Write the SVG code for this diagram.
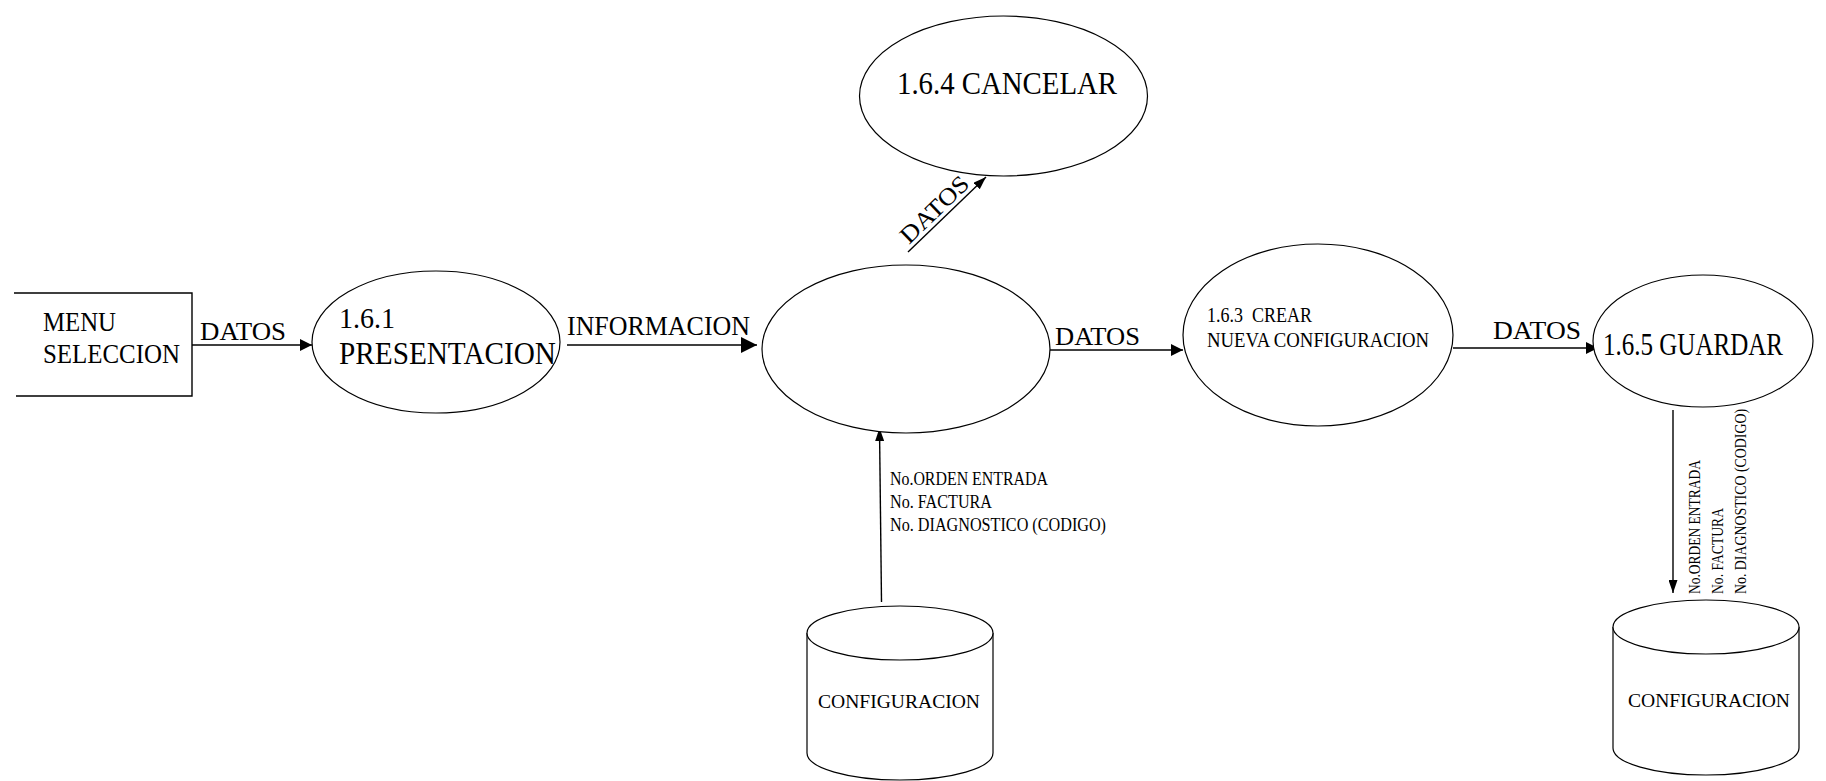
<svg xmlns="http://www.w3.org/2000/svg" width="1826" height="781" viewBox="0 0 1826 781">
<style>
  .shape { fill: #fff; stroke: #000; stroke-width: 1.2; }
  .line { fill: none; stroke: #000; stroke-width: 1.4; }
  text { font-family: "Liberation Serif", "Times New Roman", serif; fill: #000; }
  .pre { white-space: pre; }
</style>
<defs>
  <marker id="ah" viewBox="0 0 12 12" refX="12" refY="6" markerWidth="12" markerHeight="12" markerUnits="userSpaceOnUse" orient="auto">
    <path d="M0,0 L12,6 L0,12 Z" fill="#000"/>
  </marker>
  <marker id="ahBig" viewBox="0 0 16 16" refX="16" refY="8" markerWidth="16" markerHeight="16" markerUnits="userSpaceOnUse" orient="auto">
    <path d="M0,0 L16,8 L0,16 Z" fill="#000"/>
  </marker>
  <marker id="ahThin" viewBox="0 0 13 9" refX="13" refY="4.5" markerWidth="13" markerHeight="9" markerUnits="userSpaceOnUse" orient="auto">
    <path d="M0,0 L13,4.5 L0,9 Z" fill="#000"/>
  </marker>
</defs>
<rect x="0" y="0" width="1826" height="781" fill="#fff"/>

<g id="connectors">
  <line class="line" x1="192" y1="345" x2="312" y2="345" marker-end="url(#ah)"/>
  <text x="200" y="340" font-size="25" textLength="86" lengthAdjust="spacingAndGlyphs">DATOS</text>

  <line class="line" x1="567" y1="345" x2="757" y2="345" marker-end="url(#ahBig)"/>
  <text x="567" y="335" font-size="28" textLength="183" lengthAdjust="spacingAndGlyphs">INFORMACION</text>

  <line class="line" x1="1050" y1="350" x2="1183" y2="350" marker-end="url(#ah)"/>
  <text x="1055" y="345" font-size="25" textLength="85" lengthAdjust="spacingAndGlyphs">DATOS</text>

  <line class="line" x1="1453" y1="348" x2="1598" y2="348" marker-end="url(#ah)"/>
  <text x="1493" y="339" font-size="25" textLength="88" lengthAdjust="spacingAndGlyphs">DATOS</text>

  <line class="line" x1="908" y1="252" x2="986" y2="177" marker-end="url(#ahThin)"/>
  <text transform="translate(909,245) rotate(-44)" font-size="24" textLength="86" lengthAdjust="spacingAndGlyphs">DATOS</text>

  <line class="line" x1="881.5" y1="602" x2="879.5" y2="428" marker-end="url(#ahThin)"/>
  <text font-size="18" x="890" y="485" textLength="158" lengthAdjust="spacingAndGlyphs">No.ORDEN ENTRADA</text>
  <text font-size="18" x="890" y="508" textLength="102" lengthAdjust="spacingAndGlyphs">No. FACTURA</text>
  <text font-size="18" x="890" y="531" textLength="216" lengthAdjust="spacingAndGlyphs">No. DIAGNOSTICO (CODIGO)</text>

  <line class="line" x1="1673" y1="410" x2="1673" y2="593" marker-end="url(#ahThin)"/>
  <g transform="translate(1700,594) rotate(-90)">
    <text font-size="17" x="0" y="0" textLength="134" lengthAdjust="spacingAndGlyphs">No.ORDEN ENTRADA</text>
    <text font-size="17" x="0" y="22.5" textLength="86" lengthAdjust="spacingAndGlyphs">No. FACTURA</text>
    <text font-size="17" x="0" y="46" textLength="185" lengthAdjust="spacingAndGlyphs">No. DIAGNOSTICO (CODIGO)</text>
  </g>
</g>

<g id="menu-seleccion">
  <path class="line" d="M14,293 H192 V396 H16"/>
  <text x="43" y="331" font-size="28" textLength="73" lengthAdjust="spacingAndGlyphs">MENU</text>
  <text x="43" y="363" font-size="28" textLength="137" lengthAdjust="spacingAndGlyphs">SELECCION</text>
</g>

<g id="p161">
  <ellipse class="shape" cx="436" cy="342" rx="124" ry="71"/>
  <text x="339" y="328" font-size="30" textLength="56" lengthAdjust="spacingAndGlyphs">1.6.1</text>
  <text x="339" y="364" font-size="31" textLength="217" lengthAdjust="spacingAndGlyphs">PRESENTACION</text>
</g>

<g id="p162">
  <ellipse class="shape" cx="906" cy="349" rx="144" ry="84"/>
</g>

<g id="p164">
  <ellipse class="shape" cx="1003.5" cy="96" rx="144" ry="80"/>
  <text x="897" y="94" font-size="32" textLength="220" lengthAdjust="spacingAndGlyphs">1.6.4 CANCELAR</text>
</g>

<g id="p163">
  <ellipse class="shape" cx="1318" cy="335" rx="135" ry="91"/>
  <text class="pre" x="1207" y="322" font-size="20" textLength="105" lengthAdjust="spacingAndGlyphs">1.6.3  CREAR</text>
  <text x="1207" y="347" font-size="20" textLength="222" lengthAdjust="spacingAndGlyphs">NUEVA CONFIGURACION</text>
</g>

<g id="p165">
  <ellipse class="shape" cx="1703" cy="341" rx="110" ry="66"/>
  <text x="1603" y="355" font-size="31" textLength="180" lengthAdjust="spacingAndGlyphs">1.6.5 GUARDAR</text>
</g>

<g id="store-left">
  <path class="shape" d="M807,633 V753 A93,27 0 0,0 993,753 V633"/>
  <ellipse class="shape" cx="900" cy="633" rx="93" ry="27"/>
  <text x="818" y="708" font-size="19" textLength="162" lengthAdjust="spacingAndGlyphs">CONFIGURACION</text>
</g>

<g id="store-right">
  <path class="shape" d="M1613,627 V748 A93,27 0 0,0 1799,748 V627"/>
  <ellipse class="shape" cx="1706" cy="627" rx="93" ry="27"/>
  <text x="1628" y="707" font-size="19" textLength="162" lengthAdjust="spacingAndGlyphs">CONFIGURACION</text>
</g>
</svg>
